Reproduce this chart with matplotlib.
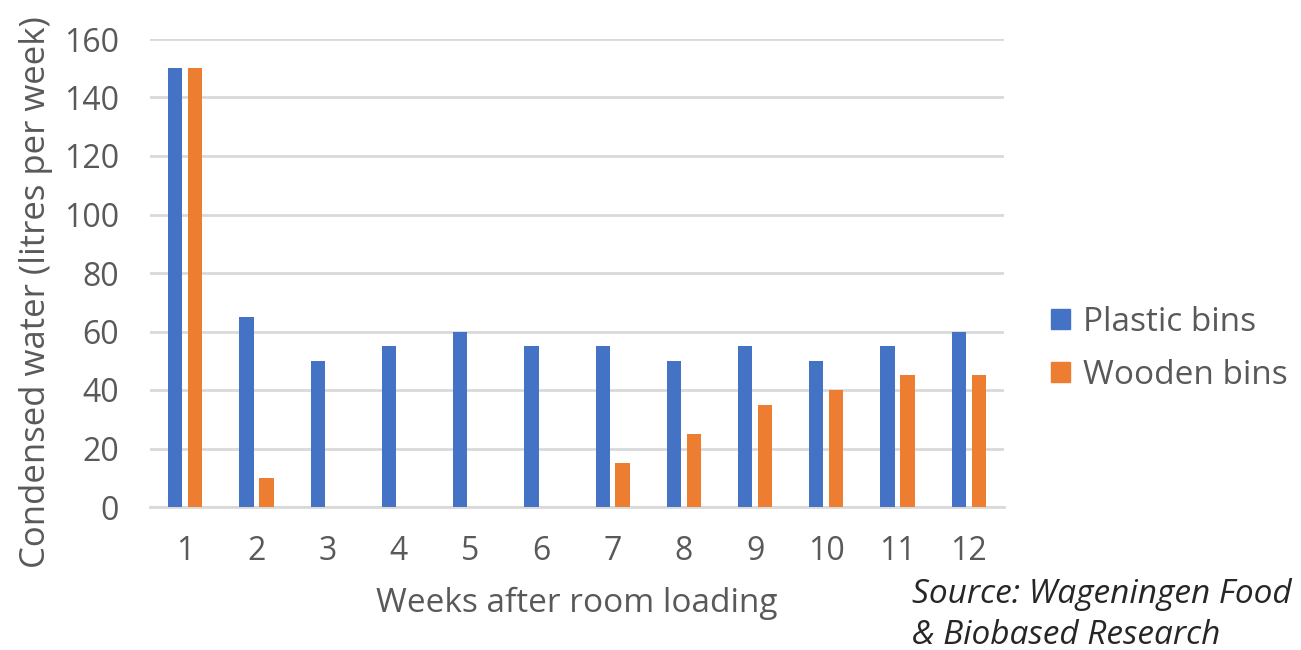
import numpy as np
import matplotlib
matplotlib.use("Agg")
import matplotlib.pyplot as plt
from matplotlib.patches import Patch

# ===== data =====
weeks = [str(w) for w in range(1, 13)]
plastic_bins = [150, 65, 50, 55, 60, 55, 55, 50, 55, 50, 55, 60]
wooden_bins = [150, 10, 0, 0, 0, 0, 15, 25, 35, 40, 45, 45]
y_ticks = [0, 20, 40, 60, 80, 100, 120, 140, 160]

# ===== style =====
BLUE = "#4472c4"
ORANGE = "#ed7d31"
GRID = "#d9d9d9"
TEXT = "#595959"
plt.rcParams["font.family"] = ["Open Sans", "DejaVu Sans"]

fig = plt.figure(figsize=(13.01, 6.5), dpi=100)
ax = fig.add_axes([0.115, 0.22, 0.657, 0.72])

x = np.arange(len(weeks))
w = 0.2
ax.bar(x - 0.14, plastic_bins, width=w, color=BLUE, zorder=3, label="Plastic bins")
ax.bar(x + 0.14, wooden_bins, width=w, color=ORANGE, zorder=3, label="Wooden bins")

ax.set_xlim(-0.5, len(weeks) - 0.5)
ax.set_ylim(0, 160)
ax.set_yticks(y_ticks)
ax.set_xticks(x)
ax.set_xticklabels(weeks)
ax.grid(axis="y", color=GRID, linewidth=2, zorder=0)
ax.tick_params(length=0, labelsize=23, colors=TEXT)
ax.tick_params(axis="y", pad=22)
ax.tick_params(axis="x", pad=20)
for s in ["top", "right", "left"]:
    ax.spines[s].set_visible(False)
ax.spines["bottom"].set_color(GRID)
ax.spines["bottom"].set_linewidth(2)

ax.set_xlabel("Weeks after room loading", fontsize=24, color=TEXT, labelpad=14)
ax.set_ylabel("Condensed water (litres per week)", fontsize=25, color=TEXT)
ax.yaxis.set_label_coords(-0.113, 0.46)

handles = [Patch(color=BLUE), Patch(color=ORANGE)]
fig.legend(handles, ["Plastic bins", "Wooden bins"], loc="center left",
           bbox_to_anchor=(0.785, 0.463), frameon=False, fontsize=24,
           labelcolor=TEXT, handlelength=0.55, handleheight=0.55,
           handletextpad=0.4, labelspacing=0.6)

fig.text(0.701, 0.072, "Source: Wageningen Food", fontsize=24, style="italic", color="#262626")
fig.text(0.701, 0.01, "& Biobased Research", fontsize=24, style="italic", color="#262626")

fig.savefig("out.png", dpi=100)
